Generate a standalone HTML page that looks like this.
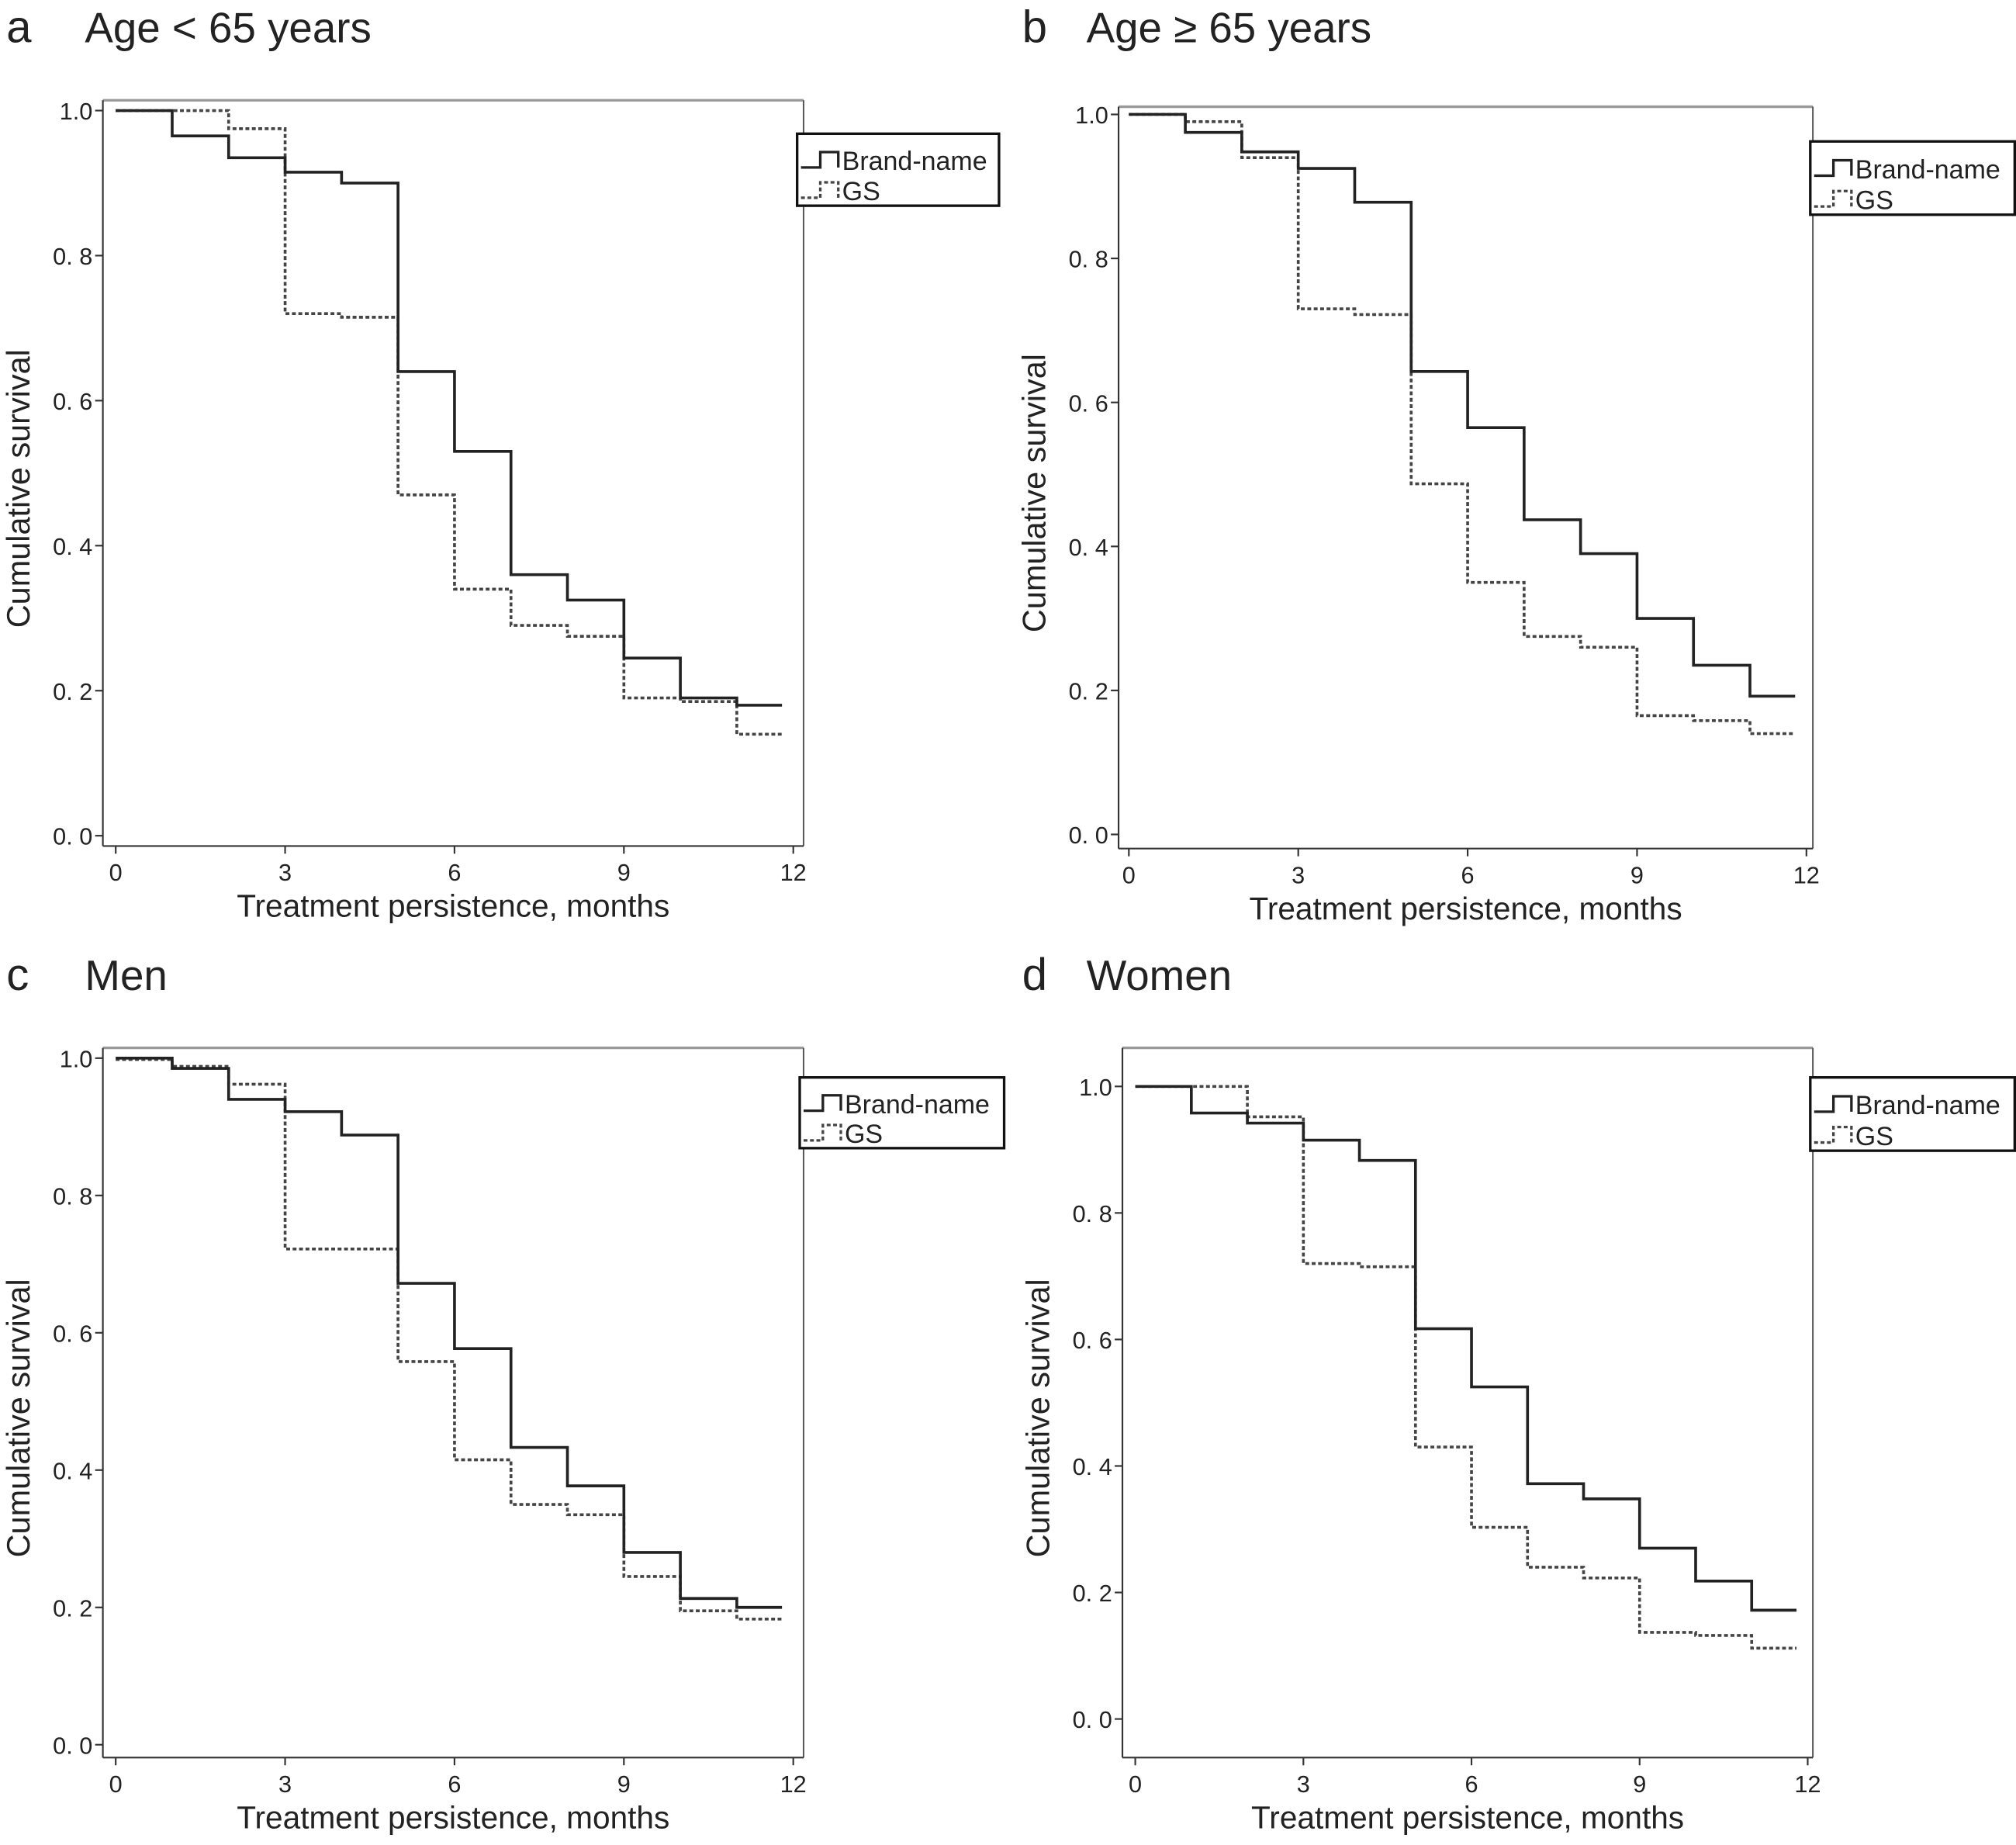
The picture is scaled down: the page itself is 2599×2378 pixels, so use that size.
<!DOCTYPE html>
<html><head><meta charset="utf-8"><style>
html,body{margin:0;padding:0;background:#fff}
svg{display:block;font-family:"Liberation Sans",sans-serif}
</style></head><body>
<svg id="fig" width="2599" height="2378" viewBox="0 0 1568 1435" preserveAspectRatio="none" xmlns="http://www.w3.org/2000/svg"></svg>
<script>
const months = [0,1,2,3,4,5,6,7,8,9,10,11];
const endMonth = 11.8;
const xTicks = [0,3,6,9,12];
const yTicks = [0,0.2,0.4,0.6,0.8,1.0];
const yTickLabels = ["0. 0","0. 2","0. 4","0. 6","0. 8","1.0"];
const brandA = [1.0,0.965,0.935,0.915,0.9,0.64,0.53,0.36,0.325,0.245,0.19,0.18];
const gsA = [1.0,1.0,0.975,0.72,0.715,0.47,0.34,0.29,0.275,0.19,0.185,0.14];
const brandB = [1.0,0.975,0.948,0.925,0.878,0.643,0.565,0.437,0.39,0.30,0.235,0.192];
const gsB = [1.0,0.99,0.94,0.73,0.722,0.487,0.35,0.275,0.26,0.165,0.158,0.14];
const brandC = [1.0,0.985,0.94,0.922,0.888,0.672,0.577,0.433,0.377,0.28,0.213,0.2];
const gsC = [0.998,0.988,0.962,0.722,0.722,0.558,0.415,0.35,0.335,0.245,0.195,0.183];
const brandD = [1.0,0.958,0.942,0.915,0.883,0.617,0.525,0.372,0.348,0.27,0.218,0.172];
const gsD = [1.0,1.0,0.952,0.72,0.715,0.43,0.303,0.24,0.223,0.137,0.132,0.112];

const NS="http://www.w3.org/2000/svg";
const svg=document.getElementById('fig');
function mk(tag,attrs,parent){const e=document.createElementNS(NS,tag);for(const k in attrs)e.setAttribute(k,attrs[k]);(parent||svg).appendChild(e);return e;}

const panels=[
 {id:'a',letter:'a',title:'Age < 65 years',lx:5,tx:66,ty:33,box:[80,78,625,658],x0:90,x12:617,y1:86,y0:650,leg:[620,104,778,160],b:brandA,g:gsA},
 {id:'b',letter:'b',title:'Age \u2265 65 years',lx:795,tx:845,ty:33,box:[870,83,1410,660],x0:878,x12:1405,y1:89,y0:649,leg:[1408,110,1568,167],b:brandB,g:gsB},
 {id:'c',letter:'c',title:'Men',lx:5,tx:66,ty:770,box:[80,815,625,1367],x0:90,x12:617,y1:823,y0:1357,leg:[622,838,782,893],b:brandC,g:gsC},
 {id:'d',letter:'d',title:'Women',lx:795,tx:845,ty:770,box:[873,815,1410,1367],x0:883,x12:1406,y1:845,y0:1337,leg:[1408,838,1568,895],b:brandD,g:gsD}
];

panels.forEach(p=>{
 const g=mk('g',{});
 
 
 const xs=t=>p.x0+(p.x12-p.x0)*t/12;
 const ys=v=>p.y0+(p.y1-p.y0)*v;
 let t=mk('text',{x:p.lx,y:p.ty,'font-size':35,fill:'#222'},g);t.textContent=p.letter;
 
 t=mk('text',{x:p.tx,y:p.ty,'font-size':33,fill:'#222'},g);t.textContent=p.title;
 
 const [bx1,by1,bx2,by2]=p.box;
 mk('line',{x1:bx1,y1:by1,x2:bx2,y2:by1,stroke:'#999','stroke-width':2},g);
 mk('line',{x1:bx2,y1:by1,x2:bx2,y2:by2,stroke:'#555','stroke-width':1.2},g);
 const ya=mk('line',{x1:bx1,y1:by1,x2:bx1,y2:by2,stroke:'#333','stroke-width':1.3},g);
 
 const xa=mk('line',{x1:bx1,y1:by2,x2:bx2,y2:by2,stroke:'#333','stroke-width':1.3},g);
 
 yTicks.forEach((v,i)=>{
  mk('line',{x1:bx1-6,y1:ys(v),x2:bx1,y2:ys(v),stroke:'#333','stroke-width':1.3},g);
  const l=mk('text',{x:bx1-8,y:ys(v)+7,'font-size':18.5,'text-anchor':'end',fill:'#222'},g);l.textContent=yTickLabels[i];
  
 });
 xTicks.forEach(v=>{
  mk('line',{x1:xs(v),y1:by2,x2:xs(v),y2:by2+6,stroke:'#333','stroke-width':1.3},g);
  const l=mk('text',{x:xs(v),y:by2+27,'font-size':18.5,'text-anchor':'middle',fill:'#222'},g);l.textContent=v;
  
 });
 t=mk('text',{x:(bx1+bx2)/2,y:by2+55,'font-size':24.5,'text-anchor':'middle',fill:'#222'},g);t.textContent='Treatment persistence, months';
 
 const cy=(by1+by2)/2+12, cx=bx1-57;
 t=mk('text',{x:cx,y:cy,'font-size':25,'text-anchor':'middle',fill:'#222',transform:`rotate(-90 ${cx} ${cy})`},g);t.textContent='Cumulative survival';
 
 function stepPath(vals){
  let d='';
  vals.forEach((v,i)=>{
   const xStart=xs(months[i]);const xEnd=xs(i<vals.length-1?months[i+1]:endMonth);
   d+=(i===0?`M${xStart},${ys(v)}`:`L${xStart},${ys(v)}`)+`L${xEnd},${ys(v)}`;
  });
  return d;
 }
 const gp=mk('path',{d:stepPath(p.g),fill:'none',stroke:'#444','stroke-width':2.2,'stroke-dasharray':'3,2'},g);
 
 const bp=mk('path',{d:stepPath(p.b),fill:'none',stroke:'#222','stroke-width':2.2},g);
 
 const [lx1,ly1,lx2,ly2]=p.leg;
 const lg=mk('g',{},g);
 
 mk('rect',{x:lx1,y:ly1,width:lx2-lx1-1,height:ly2-ly1,fill:'#fff',stroke:'#111','stroke-width':2},lg);
 const r1=ly1+(ly2-ly1)*0.38, r2=ly1+(ly2-ly1)*0.8;
 const e1=mk('path',{d:`M${lx1+3},${r1+5}L${lx1+18},${r1+5}L${lx1+18},${r1-7}L${lx1+32},${r1-7}L${lx1+32},${r1+5}`,fill:'none',stroke:'#222','stroke-width':2},lg);
 
 t=mk('text',{x:lx1+35,y:r1+7,'font-size':20.5,fill:'#222'},lg);t.textContent='Brand-name';
 const e2=mk('path',{d:`M${lx1+3},${r2+5}L${lx1+18},${r2+5}L${lx1+18},${r2-7}L${lx1+32},${r2-7}L${lx1+32},${r2+5}`,fill:'none',stroke:'#444','stroke-width':2,'stroke-dasharray':'3,2'},lg);
 
 t=mk('text',{x:lx1+35,y:r2+7,'font-size':20.5,fill:'#222'},lg);t.textContent='GS';
});
</script>
</body></html>
